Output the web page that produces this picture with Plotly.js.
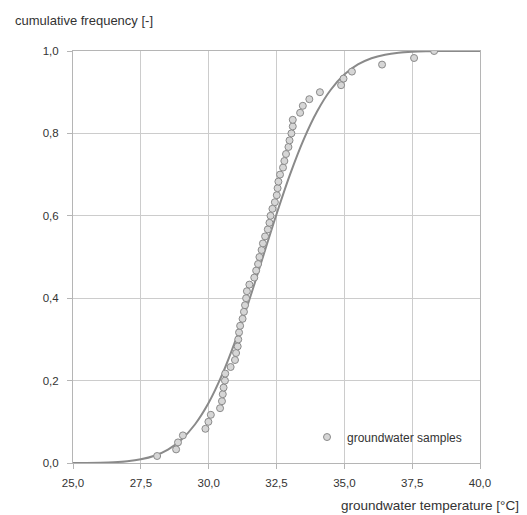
<!DOCTYPE html>
<html>
<head>
<meta charset="utf-8">
<script src="https://cdn.plot.ly/plotly-3.0.1.min.js"></script>
<style>html,body{margin:0;padding:0;background:#fff;}#chart{width:527px;height:515px;}</style>
</head>
<body>
<div id="chart"></div>
<script>
// groundwater samples: temperature [°C] and cumulative frequency [-]
const sampleTemp = [28.10, 28.80, 28.87, 29.05, 29.88, 29.99, 30.08, 30.42, 30.49, 30.52,
  30.55, 30.60, 30.61, 30.81, 30.97, 31.01, 31.07, 31.09, 31.12, 31.16,
  31.25, 31.30, 31.34, 31.38, 31.41, 31.50, 31.68, 31.75, 31.82, 31.87,
  31.95, 32.00, 32.08, 32.18, 32.24, 32.28, 32.35, 32.44, 32.51, 32.54,
  32.57, 32.63, 32.74, 32.79, 32.85, 32.94, 32.98, 33.05, 33.10, 33.10,
  33.37, 33.47, 33.71, 34.10, 34.88, 34.97, 35.28, 36.39, 37.57, 38.31];
const sampleFreq = [0.017, 0.033, 0.050, 0.067, 0.083, 0.100, 0.117, 0.133, 0.150, 0.167,
  0.183, 0.200, 0.217, 0.233, 0.250, 0.267, 0.283, 0.300, 0.317, 0.333,
  0.350, 0.367, 0.383, 0.400, 0.417, 0.433, 0.450, 0.467, 0.483, 0.500,
  0.517, 0.533, 0.550, 0.567, 0.583, 0.600, 0.617, 0.633, 0.650, 0.667,
  0.683, 0.700, 0.717, 0.733, 0.750, 0.767, 0.783, 0.800, 0.817, 0.833,
  0.850, 0.867, 0.883, 0.900, 0.917, 0.933, 0.950, 0.967, 0.983, 1.000];

// fitted curve
const curveTemp = [25.0, 25.5, 26.0, 26.5, 27.0, 27.5, 28.0, 28.5, 29.0, 29.5,
  30.0, 30.5, 31.0, 31.5, 32.0, 32.5, 33.0, 33.5, 34.0, 34.5,
  35.0, 35.5, 36.0, 36.5, 37.0, 37.5, 38.0, 38.5, 39.0, 39.5, 40.0];
const curveFreq = [0.0001, 0.0003, 0.0008, 0.0019, 0.0042, 0.0089, 0.0176, 0.0327, 0.0572, 0.0941,
  0.1462, 0.2150, 0.2994, 0.3962, 0.5000, 0.6038, 0.7006, 0.7850, 0.8538, 0.9059,
  0.9428, 0.9673, 0.9824, 0.9911, 0.9958, 0.9981, 0.9992, 0.9997, 0.9999, 1.0000, 1.0000];

const legendName = "groundwater samples";
const yTitle = "cumulative frequency [-]";
const xTitle = "groundwater temperature [°C]";

const font = "Liberation Sans, Arial, sans-serif";

const traces = [
  {
    x: curveTemp, y: curveFreq, type: "scatter", mode: "lines",
    line: {color: "#8a8a8a", width: 2, shape: "spline"},
    showlegend: false, hoverinfo: "skip"
  },
  {
    x: sampleTemp, y: sampleFreq, type: "scatter", mode: "markers",
    name: legendName,
    marker: {symbol: "circle", size: 7, color: "#d6d6d6", line: {color: "#8a8a8a", width: 1}}
  }
];

const layout = {
  width: 527, height: 515,
  margin: {l: 73, r: 47, t: 51, b: 52},
  paper_bgcolor: "#fff", plot_bgcolor: "#fff",
  separators: ",.",
  font: {family: font, size: 11.5, color: "#333"},
  showlegend: true,
  legend: {x: 0.575, y: 0.063, xanchor: "left", yanchor: "middle",
    bgcolor: "rgba(0,0,0,0)", font: {family: font, size: 12, color: "#333"},
    itemwidth: 30, tracegroupgap: 0},
  xaxis: {
    range: [25, 40], dtick: 2.5, tick0: 25, tickformat: ".1f",
    showgrid: true, gridcolor: "#cccccc", gridwidth: 1,
    showline: true, linecolor: "#b5b5b5", linewidth: 1, mirror: true,
    ticks: "outside", ticklen: 5, tickcolor: "#b5b5b5",
    ticklabelstandoff: 4,
    zeroline: false, fixedrange: true,
    tickfont: {family: font, size: 11.5, color: "#333"}
  },
  yaxis: {
    range: [0, 1], dtick: 0.2, tick0: 0, tickformat: ".1f",
    showgrid: true, gridcolor: "#cccccc", gridwidth: 1,
    showline: true, linecolor: "#b5b5b5", linewidth: 1, mirror: true,
    ticks: "outside", ticklen: 5, tickcolor: "#b5b5b5",
    ticklabelstandoff: 6,
    zeroline: false, fixedrange: true,
    tickfont: {family: font, size: 11.5, color: "#333"}
  },
  annotations: [
    {text: yTitle, xref: "paper", yref: "paper", x: -0.147, y: 1.075,
      xanchor: "left", yanchor: "middle", showarrow: false,
      font: {family: font, size: 13, color: "#333"}},
    {text: xTitle, xref: "paper", yref: "paper", x: 1.1007, y: -0.102,
      xanchor: "right", yanchor: "middle", showarrow: false,
      font: {family: font, size: 13.5, color: "#333"}}
  ]
};

Plotly.newPlot("chart", traces, layout, {displayModeBar: false, staticPlot: true});
</script>
</body>
</html>
